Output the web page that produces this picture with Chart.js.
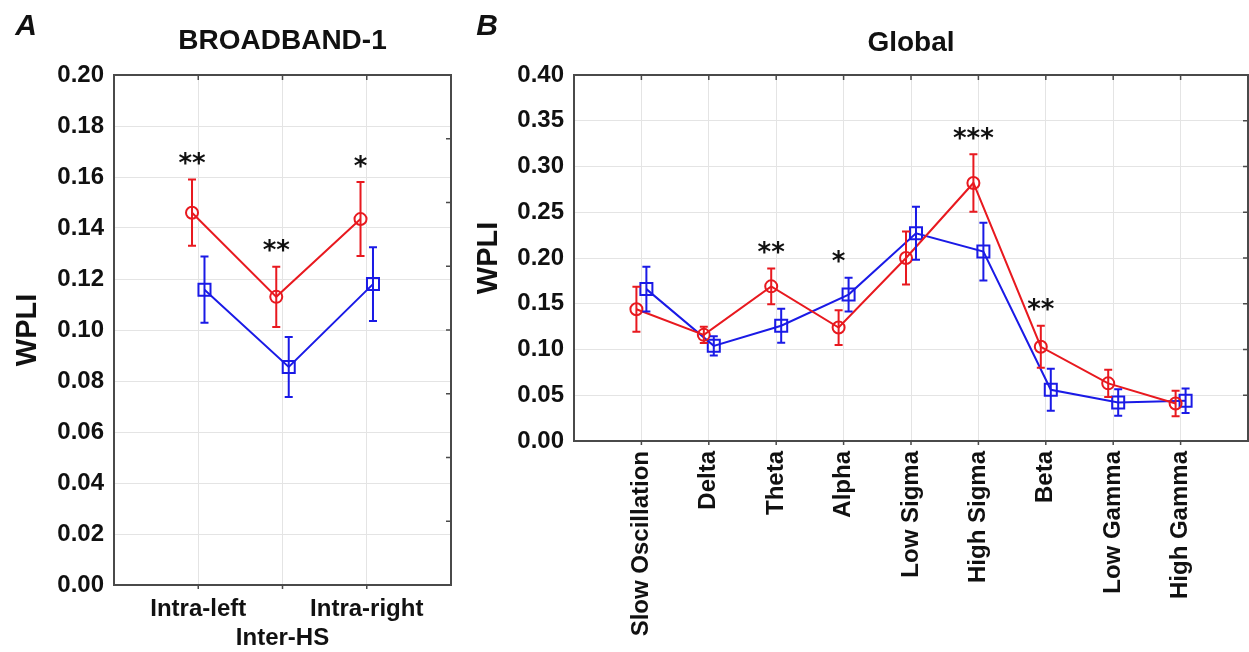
<!DOCTYPE html>
<html>
<head>
<meta charset="utf-8">
<script src="https://cdn.jsdelivr.net/npm/chart.js@4.4.0/dist/chart.umd.min.js"></script>
<style>
  body { margin: 0; background: #fff; }
  #wrap { position: relative; width: 1249px; height: 652px; overflow: hidden; }
  #chartA { position: absolute; left: 0; top: 0; }
  #chartB { position: absolute; left: 470px; top: 0; }
</style>
</head>
<body>
<div id="wrap">
  <canvas id="chartA" width="470" height="652"></canvas>
  <canvas id="chartB" width="790" height="652"></canvas>
</div>
<script>
// Panel A : BROADBAND-1
const regionsA = ['Intra-left', 'Inter-HS', 'Intra-right'];
const redA = [0.146, 0.113, 0.1435];
const redErrA = [0.013, 0.0118, 0.0145];
const blueA = [0.1158, 0.0855, 0.118];
const blueErrA = [0.013, 0.0118, 0.0145];
const sigA = ['**', '**', '*'];
const yTicksA = [0, 0.02, 0.04, 0.06, 0.08, 0.10, 0.12, 0.14, 0.16, 0.18, 0.20];

// Panel B : Global
const bandsB = ['Slow Oscillation', 'Delta', 'Theta', 'Alpha', 'Low Sigma', 'High Sigma', 'Beta', 'Low Gamma', 'High Gamma'];
const redB = [0.144, 0.116, 0.169, 0.124, 0.200, 0.282, 0.103, 0.063, 0.041];
const redErrB = [0.0245, 0.009, 0.0195, 0.019, 0.029, 0.0315, 0.023, 0.015, 0.014];
const blueB = [0.166, 0.104, 0.126, 0.160, 0.227, 0.207, 0.056, 0.042, 0.044];
const blueErrB = [0.0245, 0.0105, 0.0185, 0.0185, 0.029, 0.0315, 0.023, 0.0145, 0.0135];
const sigB = ['', '', '**', '*', '', '***', '**', '', ''];
const yTicksB = [0, 0.05, 0.10, 0.15, 0.20, 0.25, 0.30, 0.35, 0.40];

const RED = '#e8191f';
const BLUE = '#1a1ae6';
const INK = '#111';
const FONT = '"Liberation Sans", Arial, sans-serif';
const SHIFT = 0.074; // décalage horizontal des deux groupes

Chart.defaults.font.family = FONT;
Chart.defaults.color = INK;

/* texte centré verticalement sur son encre */
const fillCentered = function(ctx, text, x, cy) {
  ctx.textBaseline = 'alphabetic';
  const m = ctx.measureText(text);
  ctx.fillText(text, x, cy + (m.actualBoundingBoxAscent - m.actualBoundingBoxDescent) / 2);
};

/* barres d'erreur */
const errorBars = {
  id: 'errorBars',
  afterDatasetsDraw(chart) {
    const { ctx } = chart;
    const y = chart.scales.y;
    chart.data.datasets.forEach((ds, i) => {
      const meta = chart.getDatasetMeta(i);
      ctx.save();
      ctx.strokeStyle = ds.borderColor;
      ctx.lineWidth = 2;
      meta.data.forEach((pt, j) => {
        const v = ds.data[j].y, e = ds.errors[j];
        const top = y.getPixelForValue(v + e), bot = y.getPixelForValue(v - e);
        ctx.beginPath();
        ctx.moveTo(pt.x, top); ctx.lineTo(pt.x, bot);
        ctx.moveTo(pt.x - 4, top); ctx.lineTo(pt.x + 4, top);
        ctx.moveTo(pt.x - 4, bot); ctx.lineTo(pt.x + 4, bot);
        ctx.stroke();
      });
      ctx.restore();
    });
  }
};

/* étoiles de significativité au-dessus des barres */
const stars = {
  id: 'stars',
  afterDatasetsDraw(chart, args, opts) {
    const { ctx } = chart;
    const y = chart.scales.y;
    const red = chart.getDatasetMeta(0).data;
    ctx.save();
    ctx.fillStyle = INK;
    ctx.textAlign = 'center';
    ctx.font = 'bold 26px "DejaVu Sans", sans-serif';
    opts.labels.forEach((s, j) => {
      if (!s) return;
      let top = Infinity;
      chart.data.datasets.forEach(ds => {
        top = Math.min(top, y.getPixelForValue(ds.data[j].y + ds.errors[j]));
      });
      fillCentered(ctx, s, red[j].x, top - 21);
    });
    ctx.restore();
  }
};

/* cadre, petites graduations, lettre et titre du panneau */
const frame = {
  id: 'frame',
  afterDraw(chart, args, opts) {
    const { ctx, chartArea: a } = chart;
    ctx.save();
    ctx.strokeStyle = '#4a4a4a';
    ctx.lineWidth = 2;
    ctx.strokeRect(a.left, a.top, a.right - a.left, a.bottom - a.top);
    ctx.lineWidth = 1.5;
    ctx.beginPath();
    chart.scales.x.ticks.forEach(t => {
      const px = chart.scales.x.getPixelForValue(t.value);
      ctx.moveTo(px, a.top); ctx.lineTo(px, a.top + 5);
      ctx.moveTo(px, a.bottom); ctx.lineTo(px, a.bottom + 4);
    });
    for (let k = 1; k < 8; k++) {
      const py = a.top + (a.bottom - a.top) * k / 8;
      ctx.moveTo(a.right, py); ctx.lineTo(a.right - 5, py);
    }
    ctx.stroke();

    ctx.fillStyle = INK;
    ctx.textAlign = 'center';
    ctx.font = 'italic bold 30px ' + FONT;
    fillCentered(ctx, opts.letter, opts.letterX, opts.letterY);
    ctx.font = 'bold 28px ' + FONT;
    fillCentered(ctx, opts.title, (a.left + a.right) / 2, opts.titleY);
    ctx.restore();
  }
};

const buildChart = function(id, p) {
  const n = p.cats.length;
  const datasets = [
    { mean: p.red, errors: p.redErr, color: RED, style: 'circle', r: 6, dx: -SHIFT },
    { mean: p.blue, errors: p.blueErr, color: BLUE, style: 'rect', r: 8.5, dx: SHIFT }
  ].map(s => ({
    data: s.mean.map((v, i) => ({ x: i + 1 + s.dx, y: v })),
    errors: s.errors,
    borderColor: s.color,
    backgroundColor: 'rgba(0,0,0,0)',
    borderWidth: 2,
    pointStyle: s.style,
    pointRadius: s.r,
    pointBorderWidth: 2,
    tension: 0
  }));

  return new Chart(document.getElementById(id), {
    type: 'line',
    data: { datasets },
    options: {
      responsive: false,
      animation: false,
      layout: { padding: { top: 75, right: p.padRight, left: 0, bottom: 0 } },
      plugins: {
        legend: { display: false },
        tooltip: { enabled: false },
        stars: { labels: p.sig },
        frame: { letter: p.letter, letterX: p.letterX, letterY: 25, title: p.title, titleY: p.titleY }
      },
      scales: {
        x: {
          type: 'linear', min: 0, max: n + 1,
          afterBuildTicks: (s) => { s.ticks = p.cats.map((c, i) => ({ value: i + 1 })); },
          afterFit: (s) => { s.height = p.xHeight; },
          grid: { color: '#e4e4e4', drawTicks: false },
          border: { display: false },
          ticks: {
            autoSkip: false,
            padding: 10,
            minRotation: p.rotate, maxRotation: p.rotate,
            font: { size: 24, weight: 'bold' },
            color: INK,
            callback: (v) => p.xLabel(p.cats[Math.round(v) - 1], Math.round(v) - 1)
          }
        },
        y: {
          min: 0, max: p.yTicks[p.yTicks.length - 1],
          afterBuildTicks: (s) => { s.ticks = p.yTicks.map(v => ({ value: v })); },
          afterFit: (s) => { s.width = p.yWidth; },
          grid: { color: '#e4e4e4', drawTicks: false },
          border: { display: false },
          ticks: {
            padding: 10,
            font: { size: 24, weight: 'bold' },
            color: INK,
            callback: (v) => v.toFixed(2)
          },
          title: {
            display: true, text: 'WPLI', color: INK,
            font: { size: 29, weight: 'bold' },
            padding: { top: p.titlePad, bottom: 0 }
          }
        }
      }
    },
    plugins: [errorBars, stars, frame]
  });
};

buildChart('chartA', {
  cats: regionsA, red: redA, redErr: redErrA, blue: blueA, blueErr: blueErrA,
  sig: sigA, yTicks: yTicksA,
  letter: 'A', letterX: 26, title: 'BROADBAND-1', titleY: 39,
  padRight: 19, yWidth: 114, xHeight: 67, titlePad: 11, rotate: 0,
  // étiquette du milieu décalée d'une ligne vers le bas
  xLabel: (c, i) => (i === 1 ? ['', c] : c)
});

// le canevas B dépasse un peu de la page : la marge droite (12) déborde
buildChart('chartB', {
  cats: bandsB, red: redB, redErr: redErrB, blue: blueB, blueErr: blueErrB,
  sig: sigB, yTicks: yTicksB,
  letter: 'B', letterX: 17, title: 'Global', titleY: 41,
  padRight: 12, yWidth: 104, xHeight: 211, titlePad: 2, rotate: 90,
  xLabel: (c) => c
});
</script>
</body>
</html>
